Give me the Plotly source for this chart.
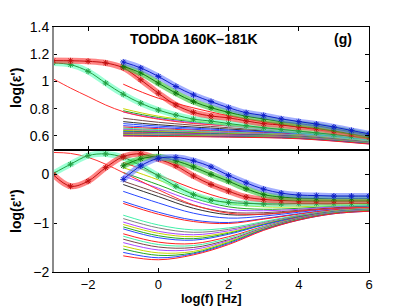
import plotly.graph_objects as go

# ---------------- data ----------------
x_full = [-3, -2.5, -2, -1.5, -1, -0.5, 0, 0.5, 1, 1.5, 2, 2.5, 3, 3.5, 4, 4.5, 5, 5.5, 6]
x_part = [-1, -0.5, 0, 0.5, 1, 1.5, 2, 2.5, 3, 3.5, 4, 4.5, 5, 5.5, 6]
x_rl = [-3, -2.5, -2, -1.5, -1, -0.5, 0, 1, 2, 3, 4, 5, 6]
x_top_lines = [-1, 0, 2, 4, 6]
x_bot_lines = [-1, 0, 1, 2, 3, 4, 5, 6]

# marker series: log(eps') (top) and log(eps'') (bottom)
red_top = [1.153, 1.152, 1.148, 1.136, 1.100, 1.012, 0.914, 0.827, 0.773, 0.746, 0.733, 0.71, 0.69, 0.68, 0.665, 0.655, 0.635, 0.615, 0.595]
red_bot = [-0.01, -0.25, -0.146, 0.13, 0.354, 0.41, 0.306, 0.167, -0.04, -0.215, -0.35, -0.47, -0.52, -0.54, -0.55, -0.55, -0.55, -0.55, -0.55]
cyan_top = [1.136, 1.123, 1.074, 0.988, 0.906, 0.840, 0.790, 0.753, 0.723, 0.709, 0.691, 0.675, 0.66, 0.648, 0.635, 0.622, 0.61, 0.597, 0.585]
cyan_bot = [0.007, 0.2, 0.375, 0.41, 0.34, 0.167, -0.04, -0.25, -0.42, -0.53, -0.58, -0.6, -0.61, -0.61, -0.6, -0.6, -0.6, -0.6, -0.6]
blue_top = [1.143, 1.099, 1.037, 0.963, 0.901, 0.852, 0.807, 0.77, 0.75, 0.725, 0.705, 0.687, 0.665, 0.64, 0.615]
blue_bot = [-0.11, 0.167, 0.32, 0.34, 0.27, 0.146, -0.03, -0.18, -0.31, -0.39, -0.43, -0.44, -0.45, -0.45, -0.45]
green_top = [1.111, 1.062, 0.988, 0.914, 0.852, 0.807, 0.773, 0.745, 0.725, 0.705, 0.69, 0.675, 0.652, 0.63, 0.605]
green_bot = [0.167, 0.31, 0.35, 0.27, 0.146, -0.007, -0.146, -0.30, -0.42, -0.47, -0.49, -0.5, -0.5, -0.5, -0.5]

# plain red line measured from 1 mHz
rl_top = [1.02, 0.951, 0.889, 0.827, 0.778, 0.746, 0.723, 0.691, 0.674, 0.655, 0.635, 0.61, 0.575]
rl_bot = [0.44, 0.42, 0.34, 0.2, 0.028, -0.146, -0.32, -0.63, -0.80, -0.82, -0.76, -0.70, -0.68]

# plain lines measured from 0.1 Hz
lines_top = [
    [0.98, 0.877, 0.748, 0.665, 0.59],
    [0.80, 0.745, 0.685, 0.64, 0.58],
    [0.785, 0.735, 0.678, 0.635, 0.578],
    [0.775, 0.727, 0.672, 0.631, 0.576],
    [0.73, 0.70, 0.66, 0.625, 0.573],
    [0.705, 0.682, 0.65, 0.62, 0.57],
    [0.69, 0.672, 0.643, 0.616, 0.567],
    [0.675, 0.661, 0.636, 0.612, 0.565],
    [0.665, 0.653, 0.631, 0.609, 0.563],
    [0.657, 0.646, 0.627, 0.606, 0.561],
    [0.65, 0.64, 0.623, 0.603, 0.559],
    [0.645, 0.636, 0.62, 0.601, 0.557],
    [0.64, 0.632, 0.617, 0.599, 0.556],
    [0.635, 0.628, 0.614, 0.597, 0.554],
    [0.63, 0.624, 0.611, 0.595, 0.553],
    [0.625, 0.62, 0.608, 0.593, 0.551],
    [0.621, 0.616, 0.605, 0.591, 0.55],
    [0.617, 0.612, 0.602, 0.589, 0.548],
    [0.613, 0.609, 0.6, 0.587, 0.547],
    [0.609, 0.606, 0.597, 0.585, 0.545],
    [0.605, 0.602, 0.595, 0.583, 0.544],
    [0.602, 0.599, 0.593, 0.581, 0.542],
    [0.599, 0.596, 0.591, 0.579, 0.54],
]
lines_bot = [
    [0.236, -0.02, -0.30, -0.52, -0.62, -0.63, -0.62, -0.60],
    [0.13, -0.12, -0.40, -0.60, -0.67, -0.67, -0.64, -0.62],
    [0.03, -0.22, -0.49, -0.67, -0.72, -0.70, -0.66, -0.63],
    [-0.04, -0.29, -0.55, -0.72, -0.75, -0.72, -0.67, -0.64],
    [-0.146, -0.39, -0.64, -0.78, -0.79, -0.74, -0.69, -0.65],
    [-0.215, -0.46, -0.70, -0.83, -0.82, -0.76, -0.70, -0.66],
    [-0.354, -0.59, -0.80, -0.90, -0.86, -0.78, -0.71, -0.67],
    [-0.56, -0.78, -0.94, -0.99, -0.91, -0.81, -0.73, -0.68],
    [-0.60, -0.82, -0.97, -1.01, -0.92, -0.82, -0.73, -0.69],
    [-0.84, -1.04, -1.14, -1.10, -0.97, -0.84, -0.75, -0.70],
    [-0.91, -1.10, -1.19, -1.13, -0.99, -0.85, -0.75, -0.70],
    [-0.98, -1.17, -1.24, -1.16, -1.01, -0.86, -0.76, -0.71],
    [-1.03, -1.21, -1.28, -1.19, -1.02, -0.87, -0.76, -0.71],
    [-1.08, -1.26, -1.32, -1.21, -1.03, -0.87, -0.77, -0.72],
    [-1.12, -1.30, -1.35, -1.23, -1.04, -0.88, -0.77, -0.72],
    [-1.22, -1.39, -1.42, -1.28, -1.07, -0.89, -0.78, -0.73],
    [-1.27, -1.44, -1.46, -1.31, -1.08, -0.90, -0.78, -0.73],
    [-1.33, -1.49, -1.50, -1.34, -1.10, -0.91, -0.79, -0.74],
    [-1.40, -1.55, -1.54, -1.36, -1.11, -0.92, -0.79, -0.74],
    [-1.47, -1.61, -1.58, -1.38, -1.12, -0.93, -0.80, -0.75],
    [-1.53, -1.66, -1.61, -1.40, -1.13, -0.93, -0.80, -0.75],
    [-1.60, -1.71, -1.63, -1.42, -1.14, -0.94, -0.81, -0.76],
    [-1.67, -1.75, -1.65, -1.44, -1.15, -0.94, -0.81, -0.76],
]
line_colors = ["#ff2020", "#c8d400", "#20a820", "#a848ff", "#7a4848", "#303030",
               "#2848ff", "#2848ff", "#ff2020", "#40f0a8", "#808080", "#a848ff",
               "#c8d400", "#20a820", "#2848ff", "#ff2020", "#40f0a8", "#7a4848",
               "#a848ff", "#c8d400", "#20a820", "#2848ff", "#ff2020"]

title_text = "TODDA 160K\u2013181K"
panel_text = "(g)"

# ---------------- figure ----------------
fig = go.Figure()

for i in range(len(lines_top)):
    c = line_colors[i]
    fig.add_trace(go.Scatter(x=x_top_lines, y=lines_top[i], mode="lines",
                             line=dict(color=c, width=1, shape="spline"),
                             xaxis="x2", yaxis="y2", hoverinfo="skip"))
    fig.add_trace(go.Scatter(x=x_bot_lines, y=lines_bot[i], mode="lines",
                             line=dict(color=c, width=1, shape="spline"),
                             xaxis="x", yaxis="y", hoverinfo="skip"))

fig.add_trace(go.Scatter(x=x_rl, y=rl_top, mode="lines",
                         line=dict(color="#ff3030", width=1, shape="spline"),
                         xaxis="x2", yaxis="y2"))
fig.add_trace(go.Scatter(x=x_rl, y=rl_bot, mode="lines",
                         line=dict(color="#ff3030", width=1, shape="spline"),
                         xaxis="x", yaxis="y"))

marker_series = [
    (x_full, cyan_top, cyan_bot, "rgba(90,255,185,0.6)", "#50f0b0", "#20a040"),
    (x_full, red_top, red_bot, "rgba(255,50,50,0.6)", "#ff3030", "#c01010"),
    (x_part, green_top, green_bot, "rgba(50,195,50,0.6)", "#30c030", "#107a10"),
    (x_part, blue_top, blue_bot, "rgba(100,120,255,0.6)", "#6878ff", "#1020c8"),
]
for xs, yt, yb, band, mc, core in marker_series:
    for ys, xa, ya in ((yt, "x2", "y2"), (yb, "x", "y")):
        fig.add_trace(go.Scatter(x=xs, y=ys, mode="lines",
                                 line=dict(color=band, width=6, shape="spline"),
                                 xaxis=xa, yaxis=ya))
        fig.add_trace(go.Scatter(x=xs, y=ys, mode="lines+markers",
                                 line=dict(color=core, width=1, shape="spline"),
                                 marker=dict(symbol="asterisk-open", size=5,
                                             line=dict(color=mc, width=1)),
                                 xaxis=xa, yaxis=ya))

# page body has an 8px margin: shrink the figure so it fits the 407x306 window
OFF = 8
W, H = 407 - OFF, 306 - OFF
l, r, t, b = 53 - OFF, 38, 27 - OFF, 34
pw, ph = W - l - r, H - t - b


def px(xw):
    return (xw - OFF - l) / pw


def py(yw):
    return (H - b - (yw - OFF)) / ph


font_family = "Liberation Sans, Arial, sans-serif"
common_axis = dict(showgrid=False, zeroline=False, showline=True, linecolor="black",
                   linewidth=1, mirror="ticks", ticks="inside", ticklen=4,
                   tickcolor="black")
y_font = dict(size=14, color="black", family=font_family)
x_font = dict(size=13, color="black", family=font_family)

fig.update_layout(
    width=W, height=H,
    margin=dict(l=l, r=r, t=t, b=b, autoexpand=False),
    paper_bgcolor="white", plot_bgcolor="white",
    showlegend=False,
    font=dict(family=font_family, color="black"),
    xaxis=dict(range=[-3, 6], domain=[0, 1], anchor="y", tickfont=x_font,
               tickvals=[-2, 0, 2, 4, 6], ticktext=["\u22122", "0", "2", "4", "6"], **common_axis),
    yaxis=dict(range=[-2, 0.5], domain=[0, 0.5], anchor="x", tickfont=y_font,
               tickvals=[-2, -1, 0], ticktext=["\u22122", "\u22121", "0"], **common_axis),
    xaxis2=dict(range=[-3, 6], domain=[0, 1], anchor="y2", matches="x", tickfont=x_font,
                tickvals=[-2, 0, 2, 4, 6], showticklabels=False, **common_axis),
    yaxis2=dict(range=[0.5, 1.4], domain=[0.5, 1], anchor="x2", tickfont=y_font,
                tickvals=[0.6, 0.8, 1.0, 1.2, 1.4],
                ticktext=["0.6", "0.8", "1", "1.2", "1.4"], **common_axis),
    shapes=[
        dict(type="line", xref="paper", yref="paper", x0=0, x1=0, y0=0, y1=1,
             line=dict(color="#8a8a8a", width=2)),
    ],
    annotations=[
        dict(text="<b>" + title_text + "</b>", x=px(194), y=py(39), xref="paper", yref="paper",
             showarrow=False, font=dict(size=14), xanchor="center", yanchor="middle"),
        dict(text="<b>" + panel_text + "</b>", x=px(343), y=py(39), xref="paper", yref="paper",
             showarrow=False, font=dict(size=14), xanchor="center", yanchor="middle"),
        dict(text="<b>log(\u03b5')</b>", x=px(16), y=py(88), xref="paper", yref="paper",
             textangle=-90, showarrow=False, font=dict(size=14),
             xanchor="center", yanchor="middle"),
        dict(text="<b>log(\u03b5'')</b>", x=px(16), y=py(211), xref="paper", yref="paper",
             textangle=-90, showarrow=False, font=dict(size=14),
             xanchor="center", yanchor="middle"),
        dict(text="<b>log(f) [Hz]</b>", x=px(211), y=py(298), xref="paper", yref="paper",
             showarrow=False, font=dict(size=13), xanchor="center", yanchor="middle"),
    ],
)

fig.write_html("out.html")
